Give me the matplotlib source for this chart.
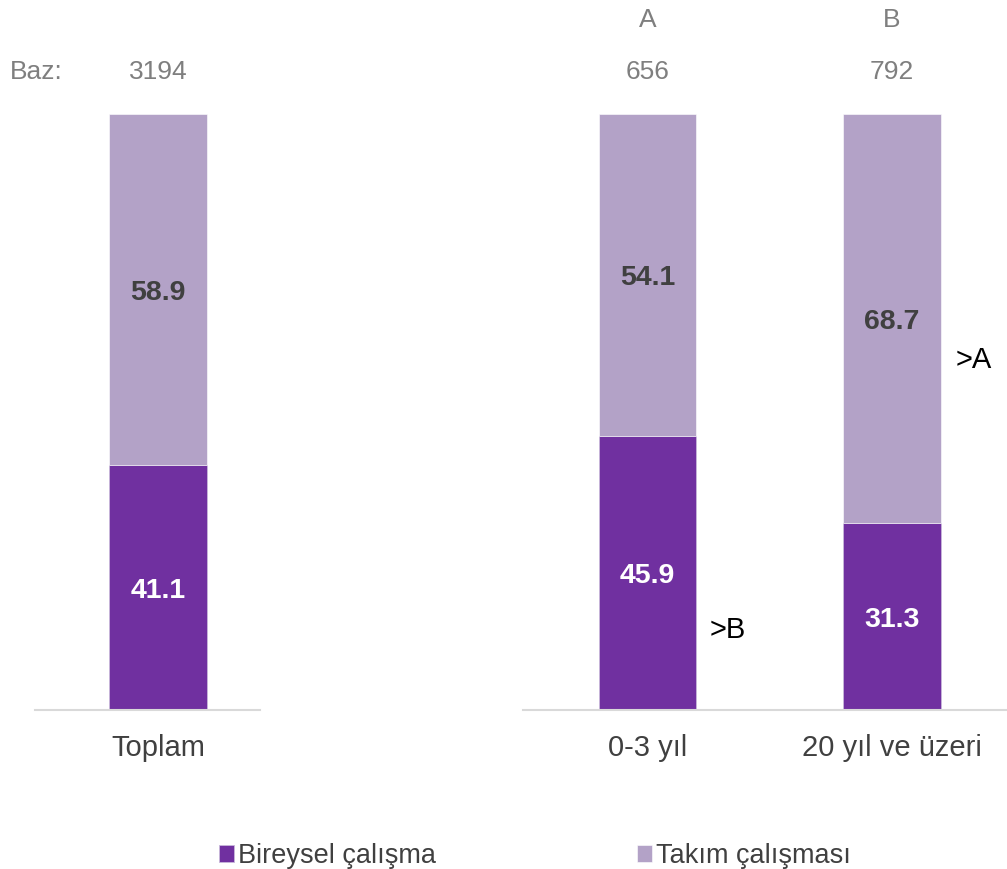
import matplotlib
matplotlib.use("Agg")
import matplotlib.pyplot as plt

plt.rcParams['font.family'] = ['Liberation Sans', 'DejaVu Sans']

# Data
left_categories = ["Toplam"]
left_bireysel = [41.1]
left_takim = [58.9]
left_bases = ["3194"]

right_categories = ["0-3 yıl", "20 yıl ve üzeri"]
right_bireysel = [45.9, 31.3]
right_takim = [54.1, 68.7]
right_bases = ["656", "792"]
right_letters = ["A", "B"]
right_sig = [">B", ">A"]

series_names = ["Bireysel çalışma", "Takım çalışması"]

DARK = "#7030A0"
LIGHT = "#B3A2C7"
GRAY = "#7F7F7F"
LBL_DARK = "#404040"
AXIS = "#D9D9D9"

W, H = 1007, 869
fig = plt.figure(figsize=(W / 100, H / 100), dpi=100)

bottom = (H - 710) / H
height = 596 / H

axL = fig.add_axes([35 / W, bottom, 225 / W, height])
axR = fig.add_axes([523 / W, bottom, 484 / W, height])


def draw(ax, cats, b, t, width):
    xs = list(range(len(cats)))
    bars1 = ax.bar(xs, b, width=width, color=DARK, edgecolor="#C8B8DA", linewidth=0.6)
    bars2 = ax.bar(xs, t, width=width, bottom=b, color=LIGHT, edgecolor="white", linewidth=0.4)
    for x, bv, tv in zip(xs, b, t):
        ax.text(x, bv / 2, f"{bv:.1f}", ha="center", va="center_baseline", color="white",
                fontsize=20.5, fontweight="bold")
        ax.text(x, bv + tv / 2, f"{tv:.1f}", ha="center", va="center_baseline", color=LBL_DARK,
                fontsize=20.5, fontweight="bold")
    ax.set_ylim(0, 100)
    ax.set_xticks(xs)
    ax.set_xticklabels(cats, fontsize=21, color="#404040")
    ax.tick_params(axis="x", length=0, pad=17)
    ax.set_yticks([])
    for s in ["top", "left", "right"]:
        ax.spines[s].set_visible(False)
    ax.spines["bottom"].set_color(AXIS)
    ax.spines["bottom"].set_linewidth(1.5)
    return bars1, bars2


draw(axL, left_categories, left_bireysel, left_takim, 1.0)
axL.set_xlim(-123 / 98, 102 / 98)

h1, h2 = draw(axR, right_categories, right_bireysel, right_takim, 0.4)
axR.set_xlim(-0.509, 1.470)

# Base sizes
y_base = 100 + (114 - 72) / 5.96
y_letter = 100 + (114 - 20) / 5.96
for i, s in enumerate(left_bases):
    axL.text(i, y_base, s, ha="center", va="center", color=GRAY, fontsize=19, clip_on=False)
for i, (s, l) in enumerate(zip(right_bases, right_letters)):
    axR.text(i, y_base, s, ha="center", va="center", color=GRAY, fontsize=19, clip_on=False)
    axR.text(i, y_letter, l, ha="center", va="center", color=GRAY, fontsize=19, clip_on=False)
fig.text(10 / W, 1 - 72 / H, "Baz:", ha="left", va="center", color=GRAY, fontsize=19)

# Significance markers
sig_pos = [(0.33, 13.9), (1.335, 59.2)]
for (x, y), s in zip(sig_pos, right_sig):
    axR.text(x, y, s, ha="center", va="center_baseline", color="black", fontsize=21)

fig.legend([h1, h2], series_names, loc="center", bbox_to_anchor=(535 / W, 1 - 856 / H),
           ncol=2, frameon=False, fontsize=19.5, handlelength=0.55, handleheight=0.55,
           handletextpad=0.15, columnspacing=7.4, labelcolor="#404040", borderpad=0.1)

fig.savefig("out.png", dpi=100)
